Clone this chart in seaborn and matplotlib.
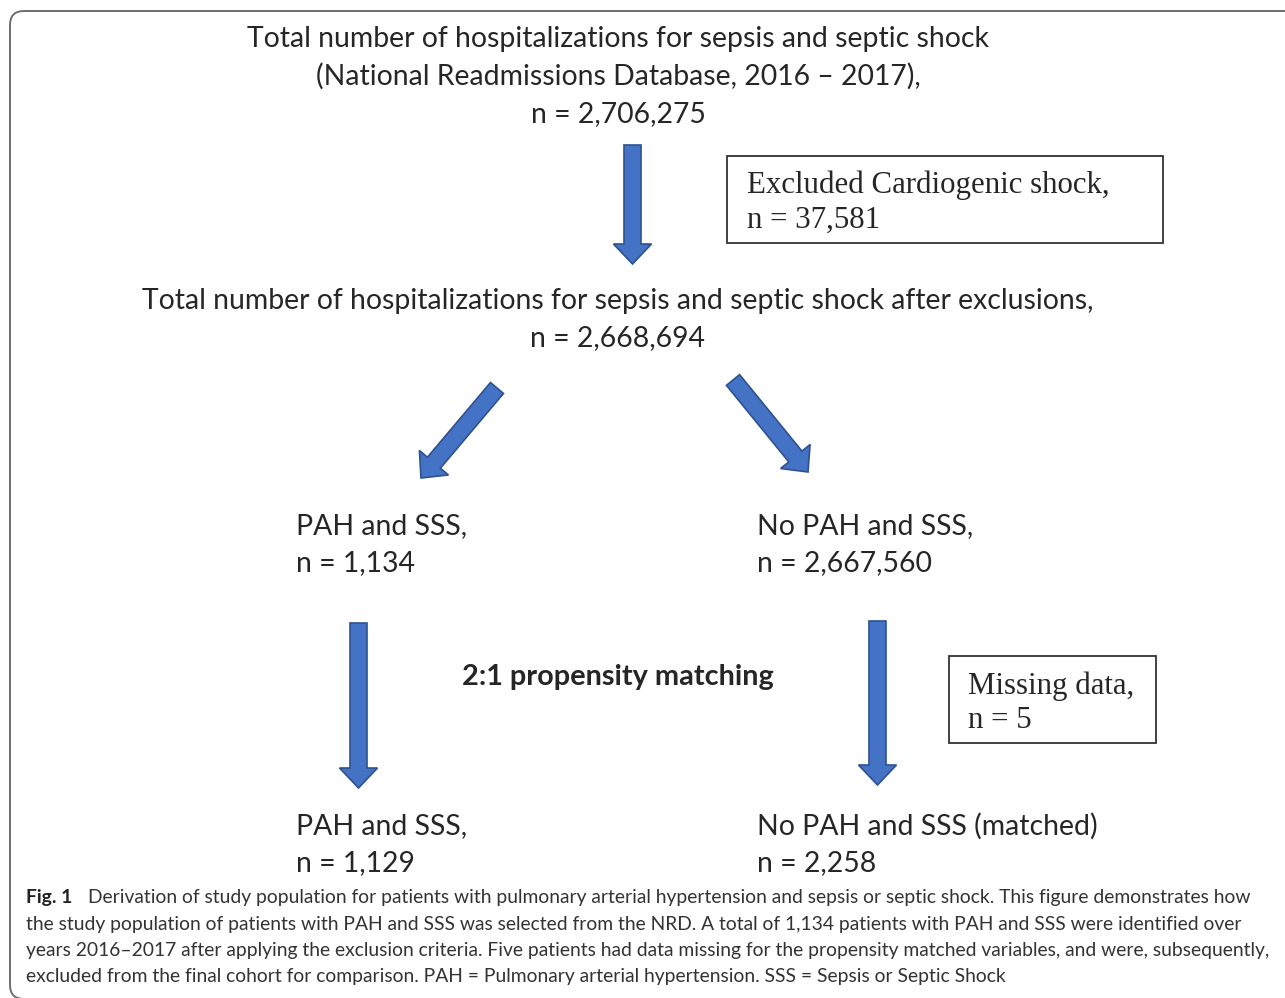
import matplotlib
matplotlib.use("Agg")
import matplotlib.pyplot as plt
from matplotlib.patches import FancyArrow, FancyBboxPatch, Rectangle
import seaborn as sns

# flowchart content
top_lines = ["Total number of hospitalizations for sepsis and septic shock",
             "(National Readmissions Database, 2016 \u2013 2017),",
             "n = 2,706,275"]
after_lines = ["Total number of hospitalizations for sepsis and septic shock after exclusions,",
               "n = 2,668,694"]
excluded_lines = ["Excluded Cardiogenic shock,", "n = 37,581"]
pah_lines = ["PAH and SSS,", "n = 1,134"]
nopah_lines = ["No PAH and SSS,", "n = 2,667,560"]
matching_label = "2:1 propensity matching"
missing_lines = ["Missing data,", "n = 5"]
pah_final = ["PAH and SSS,", "n = 1,129"]
nopah_final = ["No PAH and SSS (matched)", "n = 2,258"]
caption_bold = "Fig. 1"
caption_lines = [
    "Derivation of study population for patients with pulmonary arterial hypertension and sepsis or septic shock. This figure demonstrates how",
    "the study population of patients with PAH and SSS was selected from the NRD. A total of 1,134 patients with PAH and SSS were identified over",
    "years 2016\u20132017 after applying the exclusion criteria. Five patients had data missing for the propensity matched variables, and were, subsequently,",
    "excluded from the final cohort for comparison. PAH = Pulmonary arterial hypertension. SSS = Sepsis or Septic Shock",
]

sns.set_style("white")
main_font = "Lato"
serif_font = "Liberation Serif"
FILL = "#4472c4"
EDGE = "#2f528f"

fig = plt.figure(figsize=(12.85, 9.98), dpi=100)
ax = fig.add_axes([0, 0, 1, 1])
ax.set_xlim(0, 1285)
ax.set_ylim(998, 0)
ax.axis("off")

# outer rounded frame
ax.add_patch(FancyBboxPatch((10, 11), 1300, 988, boxstyle="round,pad=0,rounding_size=14",
                            fc="none", ec="#6e6e6e", lw=1.4))

def lines(x, y0, txt, step=37.5, ha="center", **kw):
    for i, t in enumerate(txt):
        ax.text(x, y0 + i * step, t, ha=ha, va="center", **kw)

fs = 20.4
lines(618, 39, top_lines, fontsize=fs, family=main_font)
lines(618, 301, after_lines, fontsize=fs, family=main_font)
lines(296, 526, pah_lines, ha="left", fontsize=fs, family=main_font)
lines(757, 526, nopah_lines, ha="left", fontsize=fs, family=main_font)
ax.text(618, 677, matching_label, ha="center", va="center", fontsize=20.8,
        family=main_font, weight="bold")
lines(296, 826, pah_final, ha="left", fontsize=fs, family=main_font)
lines(757, 826, nopah_final, ha="left", fontsize=fs, family=main_font)

# side boxes
ax.add_patch(Rectangle((727, 156), 436, 87, fc="white", ec="#333333", lw=1.3))
lines(747, 185, excluded_lines, step=35, ha="left", fontsize=22.2, family=serif_font)
ax.add_patch(Rectangle((949, 656), 207, 87, fc="white", ec="#333333", lw=1.3))
lines(968, 686, missing_lines, step=35, ha="left", fontsize=22.2, family=serif_font)

# block arrows (tail, tip)
arrows = [((632.5, 145), (632.5, 264)),
          ((497, 388), (421, 478)),
          ((733, 380), (808, 472)),
          ((358.5, 623), (358.5, 788)),
          ((877.5, 621), (877.5, 785))]
for (x0, y0), (x1, y1) in arrows:
    ax.add_patch(FancyArrow(x0, y0, x1 - x0, y1 - y0, width=17, head_width=38,
                            head_length=20, length_includes_head=True,
                            fc=FILL, ec=EDGE, lw=1.2))

# caption
cfs = 13.9
ax.text(26, 898, caption_bold, ha="left", va="center", fontsize=cfs,
        family=main_font, weight="bold", color="#222222")
for i, t in enumerate(caption_lines):
    x = 88 if i == 0 else 26
    ax.text(x, 898 + i * 26.3, t, ha="left", va="center", fontsize=cfs,
            family=main_font, color="#333333")

fig.savefig("out.png", dpi=100)
